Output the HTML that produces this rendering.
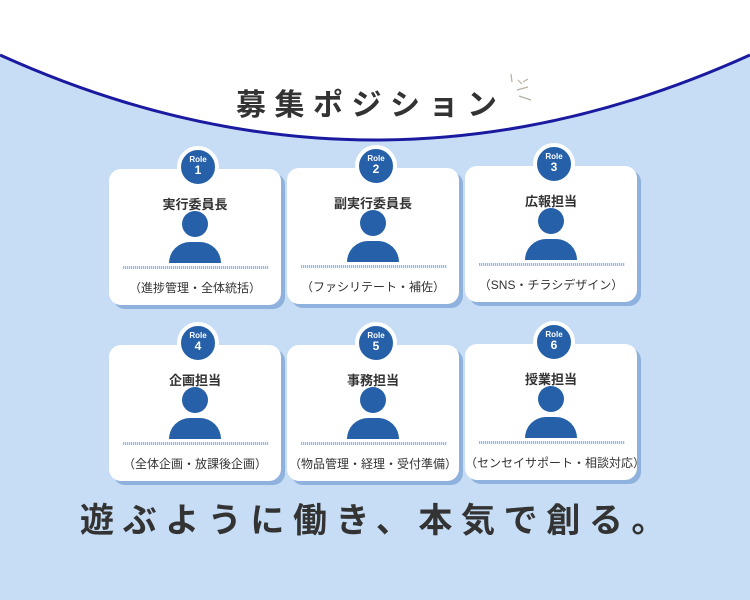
<!DOCTYPE html>
<html><head><meta charset="utf-8"><style>
body{margin:0;width:750px;height:600px;overflow:hidden;background:#c6ddf5;font-family:"Liberation Sans","Noto Sans CJK JP",sans-serif;position:relative}
.card{position:absolute;width:172px;height:136px;background:#fff;border-radius:12px;box-shadow:4px 4px 0 #8fb1dd}
.badge{position:absolute;left:68px;top:-23px;width:34px;height:34px;border-radius:50%;background:#2560a8;border:4px solid #fff;color:#fff;text-align:center;font-weight:bold}
.badge .r{font-size:8px;line-height:9px;margin-top:5px}
.badge .n{font-size:12px;line-height:13px}
.t{position:absolute;left:0;width:172px;top:25px;text-align:center;font-size:13px;font-weight:bold;color:#333}
.head{position:absolute;left:73px;top:42px;width:26px;height:26px;border-radius:50%;background:#2560a8}
.body{position:absolute;left:60px;top:73px;width:52px;height:21px;border-radius:26px 26px 0 0;background:#2560a8}
.wave{position:absolute;left:14px;top:97px;width:146px;height:3px;background:repeating-linear-gradient(90deg,#9db8dc 0 1px,#e4edf8 1px 2px)}
.s{position:absolute;left:0;width:172px;top:110px;text-align:center;font-size:12px;color:#333;white-space:nowrap}
</style></head><body>
<svg style="position:absolute;left:0;top:0" width="750" height="600">
<path d="M0 0 H750 V55 Q375 225 0 55 Z" fill="#fff"/>
<path d="M0 55 Q375 225 750 55" fill="none" stroke="#1a1aa0" stroke-width="3"/>
<g stroke="#b9b0a0" stroke-width="1.2">
<line x1="511" y1="74" x2="512" y2="82"/><line x1="518" y1="80" x2="522" y2="84"/><line x1="517" y1="90" x2="528" y2="87"/><line x1="519" y1="96" x2="531" y2="100"/><line x1="523" y1="82" x2="528" y2="79"/>
</g>
</svg>
<div style="position:absolute;left:236px;top:80px;font-size:30px;font-weight:bold;letter-spacing:8.5px;color:#333;white-space:nowrap">募集ポジション</div>

<div class="card" style="left:109px;top:169px"><div class="badge"><div class="r">Role</div><div class="n">1</div></div><div class="t">実行委員長</div><div class="head"></div><div class="body"></div><div class="wave"></div><div class="s">（進捗管理・全体統括）</div></div>
<div class="card" style="left:287px;top:168px"><div class="badge"><div class="r">Role</div><div class="n">2</div></div><div class="t">副実行委員長</div><div class="head"></div><div class="body"></div><div class="wave"></div><div class="s">（ファシリテート・補佐）</div></div>
<div class="card" style="left:465px;top:166px"><div class="badge"><div class="r">Role</div><div class="n">3</div></div><div class="t">広報担当</div><div class="head"></div><div class="body"></div><div class="wave"></div><div class="s">（SNS・チラシデザイン）</div></div>
<div class="card" style="left:109px;top:345px"><div class="badge"><div class="r">Role</div><div class="n">4</div></div><div class="t">企画担当</div><div class="head"></div><div class="body"></div><div class="wave"></div><div class="s">（全体企画・放課後企画）</div></div>
<div class="card" style="left:287px;top:345px"><div class="badge"><div class="r">Role</div><div class="n">5</div></div><div class="t">事務担当</div><div class="head"></div><div class="body"></div><div class="wave"></div><div class="s">（物品管理・経理・受付準備）</div></div>
<div class="card" style="left:465px;top:344px"><div class="badge"><div class="r">Role</div><div class="n">6</div></div><div class="t">授業担当</div><div class="head"></div><div class="body"></div><div class="wave"></div><div class="s">（センセイサポート・相談対応）</div></div>

<div style="position:absolute;left:80px;top:493px;font-size:34px;font-weight:bold;letter-spacing:8.6px;color:#333;white-space:nowrap">遊ぶように働き、本気で創る。</div>
</body></html>
